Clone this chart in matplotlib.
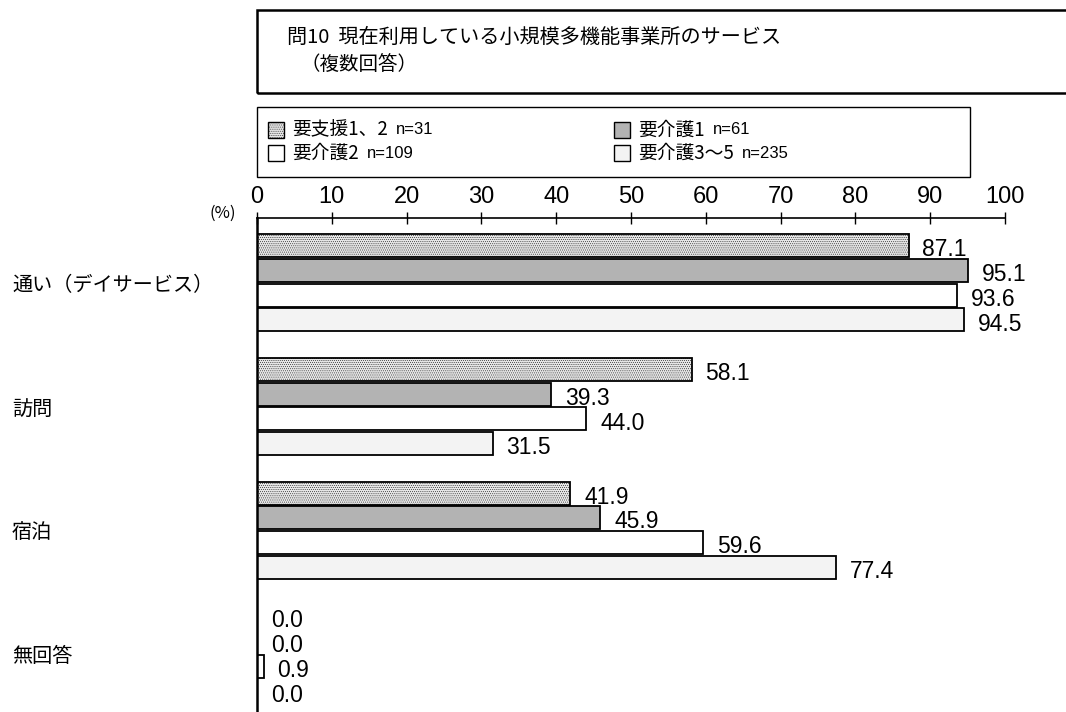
import matplotlib
matplotlib.use("Agg")
import matplotlib.pyplot as plt
from matplotlib.patches import Rectangle
from matplotlib.transforms import blended_transform_factory

categories = ["通い（デイサービス）", "訪問", "宿泊", "無回答"]
series_names = ["要支援1、2", "要介護1", "要介護2", "要介護3〜5"]
series_n = ["n=31", "n=61", "n=109", "n=235"]
values = [
    [87.1, 58.1, 41.9, 0.0],   # 要支援1、2
    [95.1, 39.3, 45.9, 0.0],   # 要介護1
    [93.6, 44.0, 59.6, 0.9],   # 要介護2
    [94.5, 31.5, 77.4, 0.0],   # 要介護3〜5
]
xticks = [0, 10, 20, 30, 40, 50, 60, 70, 80, 90, 100]

facecolors = ["#e6e6e6", "#b3b3b3", "#ffffff", "#f3f3f3"]
hatches = ["........", None, None, None]

JP = ["Noto Sans CJK JP", "DejaVu Sans"]
NUM = ["Liberation Sans Narrow", "Liberation Sans", "DejaVu Sans"]

plt.rcParams["hatch.color"] = "#c4c4c4"
plt.rcParams["hatch.linewidth"] = 0.3

W, H = 1066, 712
fig = plt.figure(figsize=(W / 100, H / 100), dpi=100)
ax = fig.add_axes([257 / W, 0, 748 / W, (712 - 218) / H])

offsets = [-0.3, -0.1, 0.1, 0.3]
bar_h = 0.185
for s in range(4):
    ys = [i + offsets[s] for i in range(len(categories))]
    ax.barh(ys, values[s], height=bar_h, color=facecolors[s],
            edgecolor="black", linewidth=1.3, hatch=hatches[s], zorder=2)
    for y, v in zip(ys, values[s]):
        ax.annotate(f"{v:.1f}", xy=(v, y), xytext=(10, -3),
                    textcoords="offset points", ha="left", va="center",
                    fontsize=16.5, family=NUM, zorder=3)

ax.set_xlim(0, 100)
ax.set_ylim(3.47, -0.524)
ax.xaxis.tick_top()
ax.set_xticks(xticks)
ax.set_xticklabels([str(t) for t in xticks], family=NUM, fontsize=17)
ax.tick_params(axis="x", direction="inout", length=8, width=1.0, pad=3)
ax.set_yticks([])
for side in ["right", "bottom"]:
    ax.spines[side].set_visible(False)
ax.spines["top"].set_linewidth(1.2)
ax.spines["left"].set_linewidth(1.8)

# category labels
trans = blended_transform_factory(fig.transFigure, ax.transData)
for i, c in enumerate(categories):
    ax.text(12 / W, i + 0.02, c, transform=trans, ha="left", va="center",
            fontsize=14.5, family=JP)

fig.text(236 / W, 1 - 213 / H, "(%)", ha="right", va="center",
         fontsize=12, family=JP)

# title box
fig.patches.append(Rectangle((257 / W, 1 - 93 / H), (1080 - 257) / W, 83 / H,
                             transform=fig.transFigure, fill=False,
                             edgecolor="black", linewidth=1.8, clip_on=False))
fig.text(287 / W, 1 - 37 / H, "問10  現在利用している小規模多機能事業所のサービス",
         ha="left", va="center", fontsize=14.5, family=JP)
fig.text(300 / W, 1 - 64 / H, "（複数回答）", ha="left", va="center",
         fontsize=14, family=JP)

# legend
fig.patches.append(Rectangle((257 / W, 1 - 177 / H), (970 - 257) / W, 70 / H,
                             transform=fig.transFigure, fill=False,
                             edgecolor="black", linewidth=1.0, clip_on=False))
leg_pos = [(268, 130), (614, 130), (268, 153), (614, 153)]
for s, (lx, ly) in enumerate(leg_pos):
    fig.patches.append(Rectangle((lx / W, 1 - (ly + 8) / H), 16 / W, 16 / H,
                                 transform=fig.transFigure,
                                 facecolor=facecolors[s], hatch=hatches[s],
                                 edgecolor="black", linewidth=1.0))
    t = fig.text((lx + 24) / W, 1 - ly / H, series_names[s], ha="left",
                 va="center", fontsize=13.5, family=JP)
    fig.canvas.draw()
    bb = t.get_window_extent()
    fig.text((bb.x1 + 8) / W, 1 - ly / H, series_n[s], ha="left",
             va="center", fontsize=12, family=NUM)

fig.savefig("out.png", dpi=100)
